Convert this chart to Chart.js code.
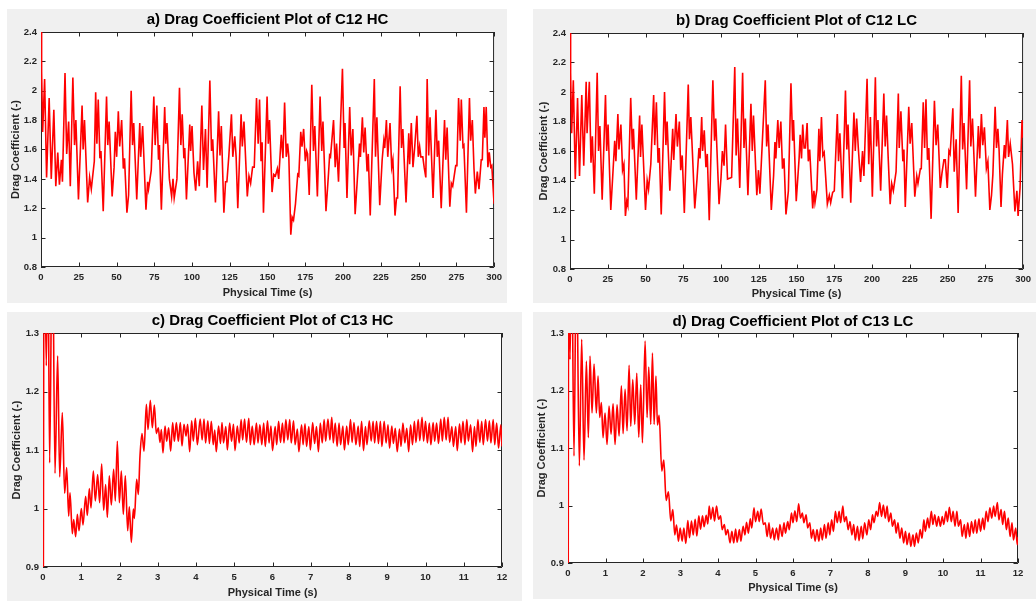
<!DOCTYPE html>
<html>
<head>
<meta charset="utf-8">
<title>Drag Coefficient Plots</title>
<script src="https://cdn.jsdelivr.net/npm/chart.js@4.4.1/dist/chart.umd.min.js"></script>
<style>
  html, body { margin: 0; padding: 0; background: #ffffff; }
  body { position: relative; width: 1036px; height: 601px; overflow: hidden; }
  .panel { position: absolute; background: #f0f0f0; }
  canvas { position: absolute; }
</style>
</head>
<body>
<script>
// ---- tick values ----
const timeTicksLong = [0, 25, 50, 75, 100, 125, 150, 175, 200, 225, 250, 275, 300];
const timeTicksShort = [0, 1, 2, 3, 4, 5, 6, 7, 8, 9, 10, 11, 12];
const cdTicksC12 = [0.8, 1, 1.2, 1.4, 1.6, 1.8, 2, 2.2, 2.4];
const cdTicksC13 = [0.9, 1, 1.1, 1.2, 1.3];

// ---- a) C12 HC ----
const timeC12HC = [
  0,0.4,1.1,2.4,3.7,5.4,6.8,8.5,9.8,11.1, 12.2,13.5,14.2,15.9,17.0,18.3,19.4,21.1,22.2,23.1,
  24.8,27.2,27.9,28.8,30.9,32.2,33.3,35.3,36.2,37.0, 37.9,39.0,39.7,41.2,43.4,44.2,45.1,47.1,48.4,49.2,
  50.1,51.2,52.1,53.4,54.5,55.3,56.9,58.0,59.7,60.6, 61.4,63.4,65.4,66.0,67.3,69.5,70.6,71.2,73.0,74.7,
  75.6,76.7,77.8,78.4,79.7,81.9,82.6,83.4,85.0,86.5, 87.4,88.2,90.0,91.7,92.6,93.5,94.6,95.2,96.3,98.5,
  99.1,100.0,101.3,102.4,103.7,104.8,106.5,107.6,108.9,110.0, 111.8,112.9,113.7,115.5,117.6,118.5,119.4,121.1,122.2,123.1,
  124.4,126.1,127.0,128.3,129.2,130.3,132.5,133.3,134.4,136.6, 137.7,138.8,140.1,141.2,142.7,143.8,144.7,145.7,146.4,147.3,
  149.7,150.5,151.3,153.0,154.1,155.2,156.5,157.4,159.1,160.2, 161.3,162.4,163.3,164.1,165.4,166.3,167.2,168.5,170.0,170.7,
  172.0,172.8,173.9,175.0,175.9,176.5,177.6,179.3,180.4,181.3, 183.0,184.8,185.9,186.7,188.7,190.4,191.1,191.7,193.7,194.8,
  195.7,197.0,199.6,200.7,201.3,202.6,204.4,205.4,206.5,208.0, 209.3,210.9,211.5,212.8,213.7,214.6,215.9,216.7,218.0,219.4,
  220.7,221.5,222.4,224.3,225.9,227.0,227.6,228.7,229.6,231.1, 232.2,233.0,234.4,235.4,236.1,237.8,238.7,239.6,241.7,243.5,
  244.1,245.2,246.3,247.4,248.9,249.8,250.7,251.5,252.8,253.7, 254.8,255.7,256.7,257.6,259.6,261.5,262.4,263.3,265.0,267.2,
  268.0,268.9,270.7,271.7,272.6,274.6,275.4,276.5,277.6,278.3, 279.4,280.0,281.7,283.7,284.5,285.6,286.7,287.6,288.9,290.0,
  291.5,292.2,293.3,293.9,294.8,295.9,296.8,297.8,298.5,300
];
const dragC12HC = [
  2.40,2.13,1.72,2.08,1.41,1.95,1.40,1.87,1.35,1.58, 1.36,1.53,1.38,2.12,1.57,1.79,1.35,2.09,1.63,1.80,
  1.26,1.90,1.60,1.80,1.24,1.41,1.33,1.52,1.99,1.64, 1.94,1.54,1.59,1.18,1.96,1.63,1.79,1.28,1.48,1.72,
  1.55,1.86,1.62,1.80,1.47,1.54,1.17,1.29,2.00,1.63, 1.78,1.26,1.78,1.55,1.76,1.19,1.38,1.33,1.46,1.96,
  1.63,1.90,1.53,1.63,1.19,1.89,1.64,1.78,1.40,1.28, 1.40,1.27,1.40,2.02,1.63,1.84,1.54,1.61,1.26,1.77,
  1.59,1.76,1.44,1.32,1.52,1.35,1.90,1.46,1.74,1.34, 2.07,1.59,1.67,1.24,1.86,1.56,1.76,1.17,1.38,1.38,
  1.56,1.84,1.55,1.69,1.55,1.20,1.84,1.62,1.79,1.28, 1.42,1.37,1.48,1.48,1.95,1.64,1.94,1.52,1.65,1.17,
  1.96,1.64,1.80,1.31,1.43,1.42,1.47,1.40,1.70,1.54, 1.92,1.55,1.64,1.55,1.02,1.14,1.12,1.23,1.43,1.42,
  1.72,1.62,1.74,1.52,1.59,1.57,1.29,2.04,1.59,1.76, 1.28,1.96,1.59,1.79,1.18,1.44,1.56,1.55,1.80,1.48,
  1.64,1.38,2.15,1.61,1.78,1.27,1.89,1.56,1.74,1.16, 1.37,1.64,1.55,1.82,1.58,1.75,1.45,1.57,1.15,1.63,
  2.08,1.55,1.82,1.22,1.53,1.66,1.61,1.80,1.55,1.78, 1.48,1.53,1.15,1.27,1.27,2.03,1.61,1.74,1.24,1.71,
  1.50,1.78,1.48,1.61,1.83,1.55,1.62,1.55,1.55,1.48, 1.41,2.08,1.56,1.82,1.27,1.87,1.55,1.66,1.20,1.80,
  1.53,1.75,1.21,1.37,1.35,1.49,1.49,1.95,1.66,1.94, 1.62,1.63,1.17,1.95,1.66,1.80,1.47,1.30,1.45,1.33,
  1.53,1.53,1.89,1.68,1.89,1.48,1.58,1.48,1.49,1.23
];

// ---- b) C12 LC ----
const timeC12LC = [
  0,0.4,1.1,2.2,3.5,5.0,6.3,7.8,9.1,10.7, 11.3,12.8,13.9,14.8,16.1,18.0,18.9,19.8,21.3,23.5,
  24.3,25.2,27.0,28.3,29.6,30.4,31.7,32.4,33.7,34.8, 35.7,36.7,37.6,38.3,40.2,41.3,42.0,43.9,46.1,46.7,
  47.6,50.0,51.1,52.0,53.5,55.4,56.1,57.2,58.3,59.1, 60.4,62.6,63.5,64.3,66.1,68.0,68.7,70.2,71.1,72.4,
  73.3,74.3,75.7,78.3,79.1,80.0,81.1,82.6,84.1,85.4, 86.1,87.2,87.8,88.9,90.0,90.9,92.2,94.6,95.7,96.5,
  98.7,100.0,100.9,102.0,103.0,104.3,107.0,109.1,110.0,110.9, 112.4,114.3,115.2,116.1,117.8,119.8,120.7,121.5,123.7,124.8,
  125.7,129.3,130.2,131.1,133.3,134.8,135.7,136.3,137.6,138.5, 139.6,140.7,141.7,143.0,144.6,146.3,147.4,148.0,149.8,151.7,
  152.4,153.3,154.1,155.0,155.9,157.0,157.8,158.7,160.7,161.5, 162.2,163.5,164.8,165.4,166.5,167.4,168.3,170.4,171.7,172.6,
  173.9,175.0,177.0,177.8,178.7,180.4,182.4,183.3,184.1,185.9, 188.0,188.9,189.8,190.9,192.4,193.7,194.6,196.7,197.8,198.9,
  200.2,202.2,203.0,203.9,205.7,207.8,208.7,209.6,210.7,212.0, 213.0,214.1,215.9,217.4,218.0,219.1,220.4,221.1,222.0,224.3,
  225.2,226.3,228.3,229.6,230.4,232.0,232.6,233.9,234.8,235.7, 236.7,237.6,239.1,241.3,242.4,243.5,245.2,246.3,247.6,248.5,
  249.8,250.9,251.7,253.5,254.4,255.7,257.0,259.1,260.0,260.9, 262.6,264.6,265.4,266.5,268.5,270.4,271.3,272.4,273.3,274.4,
  275.7,276.7,278.0,279.1,280.0,281.5,282.4,283.3,284.1,285.4, 286.3,287.6,288.3,289.6,290.4,291.5,293.0,294.6,295.9,296.7,
  298.0,299.3,300
];
const dragC12LC = [
  2.40,2.13,1.72,2.08,1.41,1.96,1.43,1.98,1.50,2.07, 1.72,2.07,1.52,1.70,1.31,2.13,1.60,1.77,1.27,1.98,
  1.60,1.78,1.20,1.43,1.67,1.53,1.85,1.61,1.78,1.47, 1.51,1.16,1.26,1.23,1.96,1.61,1.75,1.27,1.84,1.56,
  1.78,1.20,1.40,1.34,1.51,1.98,1.64,1.93,1.52,1.62, 1.17,2.00,1.64,1.80,1.33,1.75,1.54,1.85,1.63,1.80,
  1.47,1.57,1.18,2.05,1.68,1.83,1.58,1.21,1.41,1.62, 1.55,1.83,1.60,1.74,1.49,1.58,1.13,2.08,1.67,1.82,
  1.24,1.42,1.60,1.50,1.78,1.41,1.42,2.17,1.57,1.82, 1.35,2.13,1.62,1.82,1.30,1.92,1.60,1.84,1.30,1.47,
  1.31,2.08,1.63,1.78,1.20,1.43,1.66,1.55,1.81,1.62, 1.80,1.48,1.55,1.17,1.33,2.06,1.67,1.81,1.26,1.55,
  1.71,1.55,1.78,1.62,1.62,1.79,1.53,1.61,1.21,1.33, 1.25,1.34,1.75,1.53,1.83,1.57,1.59,1.24,1.30,1.25,
  1.32,1.33,1.85,1.53,1.72,1.28,2.01,1.61,1.78,1.25, 1.86,1.60,1.82,1.62,1.39,1.60,1.43,2.09,1.51,1.83,
  1.29,2.10,1.63,1.81,1.33,1.99,1.63,1.84,1.55,1.24, 1.38,1.33,1.46,1.99,1.62,1.87,1.53,1.61,1.22,1.90,
  1.65,1.79,1.29,1.43,1.38,1.48,1.48,1.93,1.62,1.95, 1.54,1.62,1.14,1.94,1.64,1.78,1.35,1.45,1.54,1.54,
  1.35,1.60,1.58,1.89,1.46,1.68,1.18,2.11,1.61,1.79, 1.34,2.08,1.63,1.82,1.29,1.77,1.55,1.85,1.64,1.76,
  1.48,1.53,1.20,1.30,1.44,1.90,1.62,1.75,1.61,1.22, 1.44,1.64,1.55,1.81,1.56,1.65,1.51,1.19,1.33,1.16,
  1.35,1.81,1.69
];

// ---- c) C13 HC ----
const timeC13HC = [
  0,0.03,0.087,0.125,0.174,0.244,0.314,0.383,0.436,0.505, 0.566,0.619,0.671,0.706,0.767,0.802,0.854,0.898,0.941,1.002,
  1.046,1.115,1.159,1.211,1.255,1.316,1.368,1.429,1.481,1.534, 1.586,1.638,1.682,1.734,1.786,1.847,1.891,1.943,1.996,2.048,
  2.100,2.152,2.214,2.257,2.309,2.362,2.388,2.449,2.492,2.536, 2.588,2.641,2.702,2.745,2.806,2.858,2.911,2.963,3.015,3.059,
  3.094,3.137,3.190,3.233,3.285,3.338,3.390,3.434,3.486,3.538, 3.590,3.634,3.686,3.739,3.782,3.834,3.887,3.930,3.983,4.035,
  4.11,4.16,4.21,4.25,4.31,4.35,4.40,4.45,4.49,4.53, 4.59,4.64,4.68,4.72,4.78,4.82,4.88,4.93,4.98,5.02,
  5.08,5.13,5.18,5.22,5.27,5.32,5.38,5.42,5.47,5.52, 5.58,5.62,5.67,5.72,5.77,5.81,5.87,5.91,5.96,6.00,
  6.07,6.11,6.16,6.21,6.26,6.30,6.35,6.40,6.45,6.49, 6.55,6.59,6.65,6.69,6.76,6.80,6.85,6.89,6.95,6.99,
  7.05,7.10,7.15,7.20,7.25,7.30,7.35,7.39,7.45,7.50, 7.55,7.59,7.64,7.69,7.74,7.78,7.84,7.88,7.94,7.98,
  8.04,8.08,8.13,8.18,8.24,8.28,8.33,8.38,8.43,8.47, 8.53,8.58,8.63,8.67,8.72,8.77,8.82,8.86,8.92,8.97,
  9.02,9.06,9.12,9.16,9.21,9.26,9.32,9.36,9.41,9.46, 9.51,9.56,9.61,9.66,9.71,9.75,9.81,9.85,9.91,9.95,
  10.00,10.05,10.10,10.14,10.20,10.24,10.29,10.34,10.40,10.44, 10.49,10.54,10.59,10.63,10.69,10.73,10.79,10.83,10.89,10.93,
  10.98,11.03,11.08,11.12,11.18,11.23,11.28,11.32,11.37,11.42, 11.47,11.51,11.57,11.62,11.67,11.71,11.77,11.81,11.86,11.91,
  11.97,12.00
];
const dragC13HC = [
  0.50,1.50,1.244,1.48,1.078,1.50,1.060,1.261,1.054,1.164, 1.026,1.070,0.987,1.027,0.957,0.981,0.952,0.990,0.962,1.000,
  0.972,1.021,0.988,1.034,1.001,1.064,1.013,1.058,1.010,1.076, 0.997,1.041,0.985,1.056,1.006,1.067,1.013,1.115,1.010,1.064,
  0.990,1.056,0.962,1.003,0.942,0.999,0.983,1.050,1.024,1.090, 1.128,1.098,1.178,1.135,1.185,1.138,1.177,1.128,1.138,1.113,
  1.135,1.095,1.141,1.115,1.138,1.098,1.147,1.115,1.147,1.115, 1.147,1.107,1.144,1.124,1.144,1.097,1.150,1.115,1.154,1.109,
  1.153,1.117,1.153,1.112,1.150,1.111,1.149,1.109,1.134,1.097, 1.141,1.111,1.147,1.112,1.140,1.100,1.146,1.115,1.144,1.099,
  1.141,1.112,1.152,1.117,1.153,1.113,1.154,1.109,1.141,1.109, 1.146,1.112,1.143,1.109,1.146,1.106,1.150,1.112,1.141,1.099,
  1.140,1.109,1.149,1.113,1.146,1.112,1.152,1.117,1.152,1.112, 1.150,1.109,1.136,1.097,1.143,1.109,1.145,1.106,1.140,1.100,
  1.147,1.111,1.140,1.097,1.146,1.112,1.152,1.115,1.153,1.117, 1.156,1.112,1.146,1.106,1.146,1.109,1.141,1.100,1.141,1.109,
  1.152,1.113,1.147,1.109,1.141,1.106,1.149,1.099,1.140,1.109, 1.150,1.115,1.149,1.112,1.149,1.111,1.149,1.106,1.149,1.112,
  1.143,1.103,1.141,1.111,1.137,1.097,1.136,1.106,1.146,1.112, 1.137,1.097,1.143,1.109,1.149,1.113,1.152,1.116,1.156,1.115,
  1.149,1.112,1.146,1.109,1.147,1.115,1.146,1.111,1.153,1.115, 1.156,1.117,1.156,1.113,1.140,1.106,1.140,1.099,1.145,1.112,
  1.149,1.109,1.152,1.115,1.143,1.097,1.140,1.106,1.152,1.113, 1.149,1.109,1.152,1.115,1.150,1.112,1.152,1.109,1.146,1.103,
  1.143,1.106
];

// ---- d) C13 LC ----
const timeC13LC = [
  0,0.02,0.053,0.098,0.160,0.223,0.303,0.365,0.427,0.490, 0.543,0.587,0.641,0.694,0.757,0.801,0.846,0.890,0.935,0.988,
  1.041,1.095,1.148,1.202,1.255,1.308,1.362,1.424,1.469,1.522, 1.575,1.629,1.673,1.727,1.780,1.834,1.887,1.940,1.985,2.056,
  2.109,2.154,2.207,2.252,2.296,2.345,2.385,2.430,2.501,2.555, 2.617,2.679,2.741,2.795,2.848,2.893,2.946,2.991,3.044,3.089,
  3.142,3.195,3.240,3.293,3.338,3.391,3.436,3.489,3.534,3.587, 3.631,3.685,3.729,3.765,3.810,3.863,3.907,3.961,4.014,
  4.07,4.11,4.17,4.21,4.26,4.32,4.37,4.42,4.47,4.51, 4.57,4.61,4.67,4.72,4.76,4.81,4.86,4.90,4.96,5.00,
  5.06,5.10,5.15,5.21,5.26,5.31,5.36,5.40,5.46,5.50, 5.56,5.61,5.65,5.71,5.76,5.80,5.86,5.90,5.96,6.00,
  6.05,6.10,6.15,6.20,6.25,6.29,6.35,6.39,6.45,6.49, 6.54,6.59,6.64,6.69,6.74,6.78,6.84,6.88,6.94,6.98,
  7.03,7.08,7.13,7.18,7.23,7.27,7.33,7.37,7.42,7.47, 7.52,7.57,7.62,7.66,7.72,7.76,7.82,7.86,7.91,7.97,
  8.02,8.07,8.12,8.16,8.22,8.26,8.31,8.36,8.41,8.46, 8.51,8.55,8.61,8.65,8.71,8.75,8.80,8.85,8.90,8.95,
  9.00,9.04,9.10,9.14,9.20,9.24,9.29,9.34,9.39,9.44, 9.49,9.53,9.59,9.63,9.69,9.73,9.78,9.83,9.88,9.93,
  9.98,10.02,10.08,10.12,10.17,10.22,10.27,10.32,10.37,10.41, 10.47,10.51,10.57,10.61,10.66,10.71,10.76,10.81,10.86,10.90,
  10.96,11.00,11.06,11.10,11.15,11.20,11.25,11.30,11.35,11.39, 11.45,11.49,11.55,11.59,11.64,11.69,11.74,11.79,11.84,11.88,
  11.94,11.98,12.00
];
const dragC13LC = [
  0.50,1.50,1.254,1.45,1.086,1.45,1.069,1.289,1.079,1.251, 1.118,1.260,1.161,1.246,1.161,1.225,1.153,1.179,1.118,1.161,
  1.106,1.173,1.124,1.177,1.106,1.175,1.121,1.208,1.125,1.202, 1.130,1.244,1.138,1.219,1.141,1.230,1.119,1.210,1.109,1.286,
  1.153,1.241,1.141,1.265,1.141,1.225,1.140,1.157,1.060,1.079, 1.009,1.024,0.973,0.993,0.949,0.966,0.938,0.961,0.938,0.961,
  0.934,0.974,0.944,0.973,0.949,0.976,0.947,0.982,0.959,0.982, 0.963,0.983,0.968,0.999,0.976,0.997,0.973,0.999,0.976,
  0.982,0.958,0.967,0.949,0.958,0.935,0.955,0.935,0.959,0.936, 0.958,0.938,0.964,0.949,0.971,0.952,0.977,0.961,0.996,0.972,
  0.990,0.972,0.994,0.967,0.970,0.946,0.970,0.943,0.961,0.940, 0.961,0.940,0.967,0.946,0.970,0.952,0.972,0.958,0.987,0.970,
  0.991,0.972,1.003,0.978,0.987,0.970,0.984,0.961,0.970,0.943, 0.958,0.938,0.958,0.938,0.961,0.940,0.967,0.943,0.970,0.949,
  0.975,0.955,0.990,0.970,0.990,0.970,0.999,0.972,0.981,0.958, 0.972,0.949,0.967,0.940,0.964,0.939,0.964,0.942,0.970,0.949,
  0.975,0.958,0.984,0.970,0.990,0.981,1.005,0.981,1.001,0.978, 0.999,0.972,0.987,0.964,0.975,0.952,0.970,0.943,0.961,0.935,
  0.955,0.932,0.952,0.929,0.949,0.929,0.952,0.935,0.958,0.943, 0.975,0.955,0.978,0.961,0.990,0.967,0.984,0.964,0.981,0.964,
  0.981,0.967,0.990,0.972,0.997,0.972,0.990,0.964,0.990,0.964, 0.975,0.946,0.967,0.943,0.970,0.946,0.972,0.952,0.975,0.952,
  0.977,0.955,0.978,0.958,0.990,0.972,0.996,0.978,0.999,0.981, 1.005,0.975,0.993,0.967,0.990,0.958,0.978,0.946,0.970,0.940,
  0.961,0.932,0.945
];

const FONT = '"Liberation Sans", Arial, Helvetica, sans-serif';
const INK = '#262626';

// Panel layout: grey box, plot rectangle and label centres, in page pixels
const panels = [
  { box: [7, 9, 500, 294], plot: { l: 41, t: 32, r: 500, b: 267 }, titleY: 20, xLabelY: 293, yLabelX: 15.5, smooth: false,
    title: 'a) Drag Coefficient Plot of C12 HC', t: timeC12HC, cd: dragC12HC, xTicks: timeTicksLong, yTicks: cdTicksC12 },
  { box: [533, 9, 503, 294], plot: { l: 570, t: 33, r: 1030, b: 269 }, titleY: 21, xLabelY: 293.5, yLabelX: 544, smooth: false,
    title: 'b) Drag Coefficient Plot of C12 LC', t: timeC12LC, cd: dragC12LC, xTicks: timeTicksLong, yTicks: cdTicksC12 },
  { box: [7, 312, 515, 289], plot: { l: 43, t: 333, r: 502, b: 567 }, titleY: 321, xLabelY: 593, yLabelX: 17, smooth: true,
    title: 'c) Drag Coefficient Plot of C13 HC', t: timeC13HC, cd: dragC13HC, xTicks: timeTicksShort, yTicks: cdTicksC13 },
  { box: [533, 312, 503, 287], plot: { l: 568, t: 333, r: 1018, b: 563 }, titleY: 322, xLabelY: 588, yLabelX: 542, smooth: true,
    title: 'd) Drag Coefficient Plot of C13 LC', t: timeC13LC, cd: dragC13LC, xTicks: timeTicksShort, yTicks: cdTicksC13 }
];

// MATLAB-style axes: white plot area, frame and inward ticks on all four sides, under the data
const axesBox = {
  id: 'axesBox',
  beforeDraw(chart) {
    const { ctx, chartArea: a } = chart;
    ctx.save();
    ctx.fillStyle = '#ffffff';
    ctx.fillRect(a.left, a.top, a.right - a.left, a.bottom - a.top);
    ctx.restore();
  },
  beforeDatasetsDraw(chart) {
    const { ctx, chartArea: a, scales: { x, y } } = chart;
    const len = 4.5;
    ctx.save();
    ctx.strokeStyle = INK;
    ctx.lineWidth = 1;
    ctx.beginPath();
    ctx.rect(a.left + 0.5, a.top + 0.5, a.right - a.left - 1, a.bottom - a.top - 1);
    x.ticks.forEach(tk => {
      const px = Math.round(x.getPixelForValue(tk.value)) + 0.5;
      ctx.moveTo(px, a.bottom); ctx.lineTo(px, a.bottom - len);
      ctx.moveTo(px, a.top); ctx.lineTo(px, a.top + len);
    });
    y.ticks.forEach(tk => {
      const py = Math.round(y.getPixelForValue(tk.value)) + 0.5;
      ctx.moveTo(a.left, py); ctx.lineTo(a.left + len, py);
      ctx.moveTo(a.right, py); ctx.lineTo(a.right - len, py);
    });
    ctx.stroke();
    ctx.restore();
  }
};

function drawPanel(p) {
  const [bx, by, bw, bh] = p.box;
  const bg = document.createElement('div');
  bg.className = 'panel';
  bg.style.cssText = `left:${bx}px;top:${by}px;width:${bw}px;height:${bh}px`;
  document.body.appendChild(bg);

  const cv = document.createElement('canvas');
  cv.width = bw;
  cv.height = bh;
  cv.style.cssText = `left:${bx}px;top:${by}px;width:${bw}px;height:${bh}px`;
  document.body.appendChild(cv);

  const titleTop = p.titleY - by - 9;
  const tickFont = { family: FONT, size: 9.5, weight: 'bold' };
  const labelFont = { family: FONT, size: 11, weight: 'bold' };

  new Chart(cv, {
    type: 'line',
    data: {
      datasets: [{
        data: p.t.map((t, i) => ({ x: t, y: p.cd[i] })),
        borderColor: '#ff0000',
        borderWidth: 1.6,
        pointRadius: 0,
        tension: 0,
        cubicInterpolationMode: p.smooth ? 'monotone' : 'default'
      }]
    },
    options: {
      responsive: false,
      animation: false,
      devicePixelRatio: 1,
      events: [],
      layout: { padding: { left: 0, top: 0, bottom: 0, right: bx + bw - p.plot.r } },
      plugins: {
        legend: { display: false },
        tooltip: { enabled: false },
        title: {
          display: true,
          fullSize: false,
          text: p.title,
          color: '#000000',
          font: { family: FONT, size: 15, weight: 'bold' },
          padding: { top: titleTop, bottom: (p.plot.t - by) - 18 - titleTop }
        }
      },
      scales: {
        x: {
          type: 'linear',
          min: p.xTicks[0],
          max: p.xTicks[p.xTicks.length - 1],
          afterBuildTicks: s => { s.ticks = p.xTicks.map(v => ({ value: v })); },
          afterFit: s => { s.height = by + bh - p.plot.b; },
          grid: { display: false, drawTicks: false },
          border: { display: false },
          ticks: { font: tickFont, color: INK, padding: 5, maxRotation: 0, autoSkip: false,
                   callback: v => String(v) },
          title: { display: true, text: 'Physical Time (s)', color: INK, font: labelFont,
                   padding: { top: 0, bottom: by + bh - p.xLabelY - 6.6 } }
        },
        y: {
          type: 'linear',
          min: p.yTicks[0],
          max: p.yTicks[p.yTicks.length - 1],
          afterBuildTicks: s => { s.ticks = p.yTicks.map(v => ({ value: v })); },
          afterFit: s => { s.width = p.plot.l - bx; },
          grid: { display: false, drawTicks: false },
          border: { display: false },
          ticks: { font: tickFont, color: INK, padding: 4, autoSkip: false,
                   callback: v => String(v) },
          title: { display: true, text: 'Drag Coefficient (-)', color: INK, font: labelFont,
                   padding: { top: p.yLabelX - bx - 6.6, bottom: 0 } }
        }
      }
    },
    plugins: [axesBox]
  });
}

panels.forEach(drawPanel);
</script>
</body>
</html>
